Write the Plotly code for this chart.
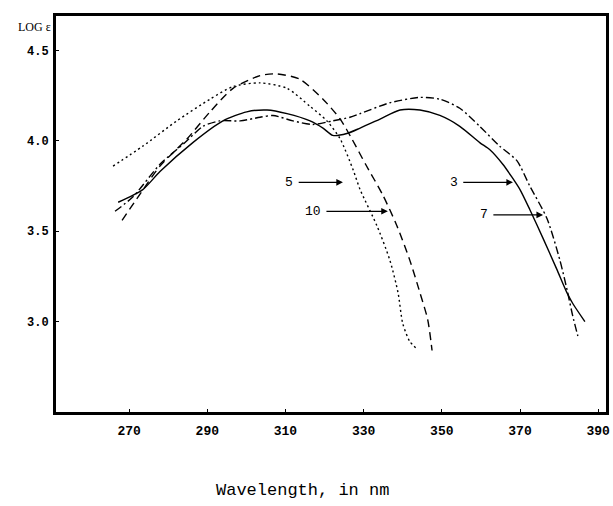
import plotly.graph_objects as go

# Curve 3 (solid)
x3 = [267.2, 273.5, 277.9, 286.3, 294.0, 300.1, 305.3, 310.4, 316.3, 319.6, 322.1, 325.7, 329.1,
      334.2, 339.3, 344.4, 349.5, 354.6, 359.7, 362.3, 365.6, 367.9, 370.0, 372.5, 375.9, 379.4,
      382.0, 383.5, 386.6]
y3 = [3.66, 3.73, 3.83, 3.99, 4.11, 4.16, 4.17, 4.15, 4.11, 4.07, 4.03, 4.04, 4.07,
      4.12, 4.17, 4.17, 4.14, 4.08, 3.99, 3.95, 3.87, 3.80, 3.73, 3.62, 3.46, 3.29,
      3.16, 3.10, 3.00]

# Curve 5 (dashed)
x5 = [268.2, 272.0, 277.9, 284.8, 290.7, 296.6, 303.5, 307.8, 313.7, 319.6, 324.0, 327.0,
      330.5, 334.9, 338.5, 341.8, 344.4, 346.4, 347.5]
y5 = [3.56, 3.68, 3.86, 4.01, 4.16, 4.29, 4.36, 4.37, 4.34, 4.23, 4.12, 4.01,
      3.87, 3.70, 3.53, 3.34, 3.16, 3.01, 2.84]

# Curve 7 (dash-dot)
x7 = [266.4, 271.0, 277.9, 284.3, 288.9, 293.2, 298.4, 303.5, 306.8, 311.9, 317.0, 322.1,
      326.5, 329.1, 336.7, 344.4, 349.5, 354.6, 359.7, 364.8, 369.2, 372.5, 376.9, 380.2,
      382.2, 383.5, 384.8]
y7 = [3.61, 3.69, 3.87, 3.99, 4.08, 4.11, 4.11, 4.13, 4.14, 4.11, 4.09, 4.11,
      4.13, 4.15, 4.21, 4.24, 4.23, 4.18, 4.08, 3.97, 3.89, 3.75, 3.57, 3.34,
      3.16, 3.03, 2.92]

# Curve 10 (dotted)
x10 = [265.9, 273.5, 282.2, 290.7, 296.6, 303.5, 310.4, 316.3, 320.6, 324.0, 327.3, 329.1,
       333.4, 336.7, 338.8, 340.0, 341.8, 343.6]
y10 = [3.86, 3.97, 4.11, 4.23, 4.30, 4.32, 4.29, 4.19, 4.11, 4.01, 3.84, 3.73,
       3.53, 3.34, 3.16, 2.99, 2.89, 2.85]

# Labels with arrows: label, tail x, head x, y
arrow_labels = ["5", "10", "3", "7"]
arrow_tail_x = [313.0, 320.1, 355.1, 362.8]
arrow_head_x = [324.7, 336.2, 368.2, 375.9]
arrow_y = [3.77, 3.61, 3.77, 3.59]

x_ticks = [270, 290, 310, 330, 350, 370, 390]
y_ticks = [3.0, 3.5, 4.0, 4.5]

fig = go.Figure()
line_common = dict(color="black", width=1.4, shape="spline", smoothing=0.7)
fig.add_trace(go.Scatter(x=x10, y=y10, mode="lines", line=dict(**line_common, dash="2px,3px")))
fig.add_trace(go.Scatter(x=x5, y=y5, mode="lines", line=dict(**line_common, dash="8px,5px")))
fig.add_trace(go.Scatter(x=x7, y=y7, mode="lines", line=dict(**line_common, dash="8px,3px,2px,3px")))
fig.add_trace(go.Scatter(x=x3, y=y3, mode="lines", line=dict(**line_common)))

mono = "Liberation Mono"
for lab, tx, hx, ay in zip(arrow_labels, arrow_tail_x, arrow_head_x, arrow_y):
    fig.add_annotation(x=hx, y=ay, ax=tx, ay=ay, xref="x", yref="y", axref="x", ayref="y",
                       text="", showarrow=True, arrowhead=2, arrowsize=1.1, arrowwidth=1.2,
                       arrowcolor="black")
    fig.add_annotation(x=tx, y=ay, xref="x", yref="y", text=lab, showarrow=False,
                       xanchor="right", xshift=-2, font=dict(family=mono, size=13, color="black"))

fig.add_annotation(x=-0.006, y=0.972, xref="paper", yref="paper", text="LOG ε", showarrow=False,
                   xanchor="right", yanchor="middle",
                   font=dict(family="Liberation Serif", size=12, color="black"))
fig.add_annotation(x=0.449, y=-0.197, xref="paper", yref="paper", text="Wavelength, in nm",
                   showarrow=False, xanchor="center", yanchor="middle",
                   font=dict(family=mono, size=17, color="black"))

fig.update_layout(
    width=613, height=506,
    margin=dict(l=56, r=7, t=16, b=94, autoexpand=False),
    paper_bgcolor="white", plot_bgcolor="white",
    showlegend=False,
    xaxis=dict(range=[251.3, 392.0], tickvals=x_ticks, ticktext=[str(v) for v in x_ticks],
               ticks="inside", ticklen=3, tickcolor="black", showgrid=False, zeroline=False,
               showline=True, mirror=True, linecolor="black", linewidth=3, automargin=False,
               tickfont=dict(family=mono, size=13, color="black", weight="bold"),
               ticklabelstandoff=4),
    yaxis=dict(range=[2.5, 4.69], tickvals=y_ticks, ticktext=["%.1f" % v for v in y_ticks],
               ticks="inside", ticklen=3, tickcolor="black", showgrid=False, zeroline=False,
               showline=True, mirror=True, linecolor="black", linewidth=3, automargin=False,
               tickfont=dict(family=mono, size=12, color="black", weight="bold"),
               ticklabelstandoff=2),
)

fig.write_html("out.html", config={"displayModeBar": False},
               post_script="document.body.style.margin='0px';document.body.style.overflow='hidden';")
